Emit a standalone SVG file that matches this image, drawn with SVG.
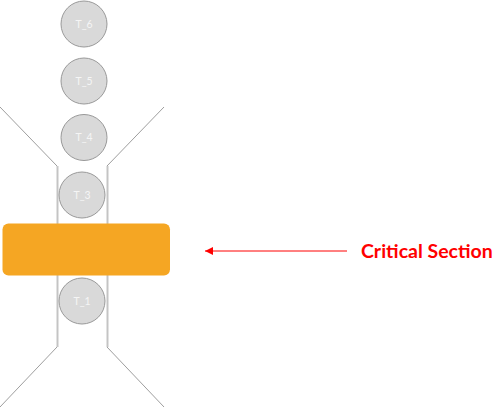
<svg xmlns="http://www.w3.org/2000/svg" width="495" height="409" viewBox="0 0 495 409">
<defs>
<style>
.t{fill:#d9d9d9;stroke:#999;stroke-width:1}
.tl{font-family:Lato,"Liberation Sans",sans-serif;font-size:10.5px;fill:#f5f5f5;text-anchor:middle}
.diag{stroke:#9e9e9e;stroke-width:1;fill:none}
.vert{stroke:#c4c4c4;stroke-width:2;fill:none}
</style>
<marker id="ah" markerWidth="10" markerHeight="10" refX="8" refY="4" orient="auto" markerUnits="userSpaceOnUse">
<path d="M0,0 L8,4 L0,8 Z" fill="#ff0000"/>
</marker>
</defs>
<rect width="495" height="409" fill="#fff"/>
<g id="funnel">
<path class="diag" d="M0,107 L57,166"/>
<path class="diag" d="M164,107 L107,166"/>
<path class="vert" d="M57.5,166 L57.5,347"/>
<path class="vert" d="M107.5,166 L107.5,347"/>
<path class="diag" d="M57,347 L0,407"/>
<path class="diag" d="M107,347 L164,407"/>
</g>
<g id="T_6"><circle class="t" cx="84" cy="24" r="23"/><text class="tl" x="84" y="27.5">T_6</text></g>
<g id="T_5"><circle class="t" cx="84" cy="81" r="23"/><text class="tl" x="84" y="84.5">T_5</text></g>
<g id="T_4"><circle class="t" cx="84" cy="137.5" r="23"/><text class="tl" x="84" y="141">T_4</text></g>
<g id="T_3"><circle class="t" cx="82" cy="195" r="23"/><text class="tl" x="82" y="198.5">T_3</text></g>
<g id="T_1"><circle class="t" cx="82" cy="301" r="23"/><text class="tl" x="82" y="304.5">T_1</text></g>
<g id="critical"><rect x="2.5" y="223.5" width="167.5" height="52" rx="6" fill="#f5a623"/></g>
<g id="connectors">
<line x1="347" y1="251" x2="205" y2="251" stroke="#ff0000" stroke-width="1" marker-end="url(#ah)"/>
</g>
<g id="label"><text x="361" y="257.5" font-family="Lato,'Liberation Sans',sans-serif" font-weight="bold" font-size="19.5" fill="#ff0000">Critical Section</text></g>
</svg>
